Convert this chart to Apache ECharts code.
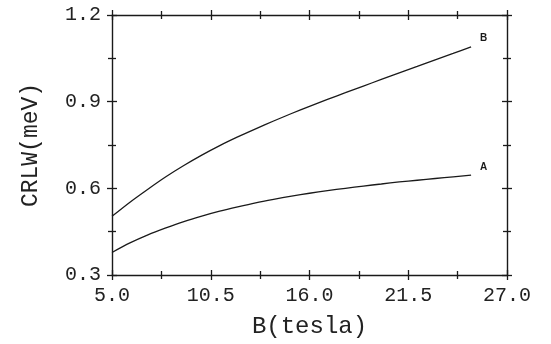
<!DOCTYPE html>
<html>
<head>
<meta charset="utf-8">
<script src="https://cdn.jsdelivr.net/npm/echarts@6/dist/echarts.min.js"></script>
<style>html,body{margin:0;padding:0;background:#fff;}#c{width:551px;height:344px;}</style>
</head>
<body>
<div id="c"></div>
<script>
const bField = [5, 6, 7, 8, 9, 10, 11, 12, 13, 14, 15, 16, 17, 18, 19, 20, 21, 22, 23, 24, 25];
const curveA = [0.378, 0.411, 0.439, 0.463, 0.485, 0.504, 0.521, 0.536, 0.550, 0.562, 0.573, 0.583, 0.592, 0.600, 0.608, 0.615, 0.622, 0.628, 0.634, 0.640, 0.646];
const curveB = [0.503, 0.552, 0.597, 0.640, 0.679, 0.715, 0.748, 0.778, 0.806, 0.833, 0.859, 0.884, 0.908, 0.931, 0.954, 0.977, 1.0, 1.022, 1.045, 1.067, 1.09];
const xTickLabels = ['5.0', '10.5', '16.0', '21.5', '27.0'];
const yTickLabels = ['0.3', '0.6', '0.9', '1.2'];
const xTitle = 'B(tesla)';
const yTitle = 'CRLW(meV)';

const X_MIN = 5, X_MAX = 27, X_INT = 5.5;
const Y_MIN = 0.3, Y_MAX = 1.2, Y_INT = 0.3;
const ink = '#1a1a1a';
const mono = '"Liberation Mono", "DejaVu Sans Mono", monospace';

function xAx(pos, inside, main) {
  return {
    type: 'value', position: pos, min: X_MIN, max: X_MAX, interval: X_INT,
    axisLine: { show: main, onZero: false, lineStyle: { color: ink, width: 1.4 } },
    axisTick: { show: true, inside: inside, length: 5, lineStyle: { color: ink, width: 1.3 } },
    minorTick: { show: true, splitNumber: 2, length: 4, lineStyle: { color: ink, width: 1.3 } },
    splitLine: { show: false },
    axisLabel: main && pos === 'bottom' ? {
      show: true, margin: 11, color: '#222', fontFamily: mono, fontSize: 20,
      formatter: function (v) { const i = Math.round((v - X_MIN) / X_INT); return xTickLabels[i] || ''; }
    } : { show: false },
    name: main && pos === 'bottom' ? xTitle : '',
    nameLocation: 'middle', nameGap: 40,
    nameTextStyle: { color: '#222', fontFamily: mono, fontSize: 24 }
  };
}
function yAx(pos, inside, main) {
  return {
    type: 'value', position: pos, min: Y_MIN, max: Y_MAX, interval: Y_INT,
    axisLine: { show: main, onZero: false, lineStyle: { color: ink, width: 1.4 } },
    axisTick: { show: true, inside: inside, length: 5, lineStyle: { color: ink, width: 1.3 } },
    minorTick: { show: true, splitNumber: 2, length: 4, lineStyle: { color: ink, width: 1.3 } },
    splitLine: { show: false },
    axisLabel: main && pos === 'left' ? {
      show: true, margin: 11, color: '#222', fontFamily: mono, fontSize: 20,
      formatter: function (v) { const i = Math.round((v - Y_MIN) / Y_INT); return yTickLabels[i] || ''; }
    } : { show: false },
    name: main && pos === 'left' ? yTitle : '',
    nameLocation: 'middle', nameGap: 70,
    nameTextStyle: { color: '#222', fontFamily: mono, fontSize: 23 }
  };
}

const chart = echarts.init(document.getElementById('c'), null, { renderer: 'canvas' });
chart.setOption({
  animation: false,
  backgroundColor: '#fff',
  grid: { left: 112, right: 44, top: 15, bottom: 64 },
  xAxis: [xAx('bottom', false, true), xAx('bottom', true, false), xAx('top', false, true), xAx('top', true, false)],
  yAxis: [yAx('left', false, true), yAx('left', true, false), yAx('right', false, true), yAx('right', true, false)],
  series: [
    {
      name: 'A', type: 'line', xAxisIndex: 0, yAxisIndex: 0, showSymbol: false, smooth: 0.3,
      data: bField.map((x, i) => [x, curveA[i]]),
      lineStyle: { color: ink, width: 1.3 },
      endLabel: { show: true, formatter: 'A', offset: [1, -8], color: ink, fontFamily: '"Liberation Sans", Arial, sans-serif', fontWeight: 'bold', fontSize: 10 }
    },
    {
      name: 'B', type: 'line', xAxisIndex: 0, yAxisIndex: 0, showSymbol: false, smooth: 0.3,
      data: bField.map((x, i) => [x, curveB[i]]),
      lineStyle: { color: ink, width: 1.3 },
      endLabel: { show: true, formatter: 'B', offset: [1, -9], color: ink, fontFamily: '"Liberation Sans", Arial, sans-serif', fontWeight: 'bold', fontSize: 10 }
    }
  ]
});
</script>
</body>
</html>
